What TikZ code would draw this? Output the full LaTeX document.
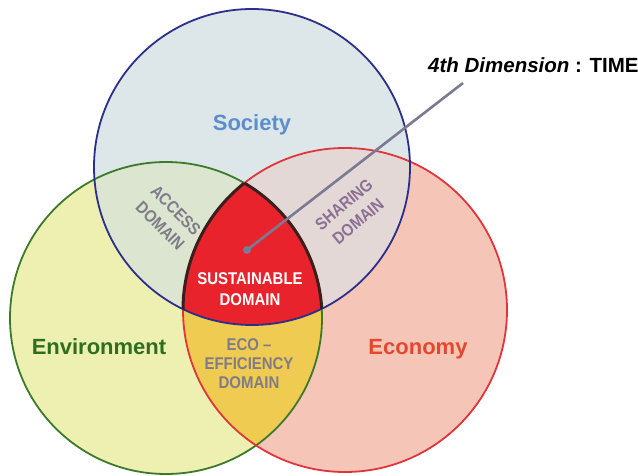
\documentclass[tikz,border=0pt]{standalone}
\usepackage{fontspec}
\setmainfont{Liberation Sans}
\newfontfamily\narrowsans{Liberation Sans}[FakeStretch=0.88,Ligatures=TeX]

\definecolor{socfill}{HTML}{DDE7EA}
\definecolor{envfill}{HTML}{EEF0B2}
\definecolor{econfill}{HTML}{F5C6B8}
\definecolor{accessfill}{HTML}{DCE5CF}
\definecolor{sharingfill}{HTML}{E3D8D6}
\definecolor{efficiencyfill}{HTML}{EFCB52}
\definecolor{sustfill}{HTML}{E8232B}
\definecolor{socline}{HTML}{2B2F8A}
\definecolor{envline}{HTML}{3C7A2A}
\definecolor{econline}{HTML}{E0353B}
\definecolor{sustline}{HTML}{3B1E1E}
\definecolor{soctext}{HTML}{5B8FCB}
\definecolor{envtext}{HTML}{2F6E1F}
\definecolor{econtext}{HTML}{E5472E}
\definecolor{domaingray}{HTML}{7F7C88}
\definecolor{timeline}{HTML}{7B7A92}

\def\societycircle{(252,167) circle (158)}
\def\envcircle{(166,318) circle (156)}
\def\econcircle{(345,310) circle (162)}

\begin{document}
\begin{tikzpicture}[x=1pt,y=-1pt,
    big label/.style={font=\bfseries\fontsize{22}{24}\selectfont},
    domain label/.style={font=\narrowsans\bfseries\fontsize{17}{22}\selectfont,align=center,text=domaingray}]
  \useasboundingbox (0,0) rectangle (638,476);

  % base discs
  \fill[envfill] \envcircle;
  \fill[econfill] \econcircle;
  \fill[socfill] \societycircle;
  % overlaps
  \begin{scope}
    \clip \envcircle;
    \fill[efficiencyfill] \econcircle;
  \end{scope}
  \begin{scope}
    \clip \societycircle;
    \fill[accessfill] \envcircle;
  \end{scope}
  \begin{scope}
    \clip \societycircle;
    \fill[sharingfill] \econcircle;
  \end{scope}
  \begin{scope}
    \clip \societycircle;
    \clip \envcircle;
    \fill[sustfill] \econcircle;
  \end{scope}

  % outlines
  \draw[envline,line width=1.8] \envcircle;
  \draw[econline,line width=1.8] \econcircle;
  \draw[socline,line width=1.8] \societycircle;
  \begin{scope}
    \clip \societycircle; \clip \envcircle;
    \draw[sustline,line width=3] \econcircle;
  \end{scope}
  \begin{scope}
    \clip \societycircle; \clip \econcircle;
    \draw[sustline,line width=3] \envcircle;
  \end{scope}

  % labels
  \node[big label,text=soctext] (society) at (252,125) {Society};
  \node[big label,text=envtext] (environment) at (99,347) {Environment};
  \node[big label,text=econtext] (economy) at (418,349) {Economy};

  \node[domain label,rotate=-45] (access) at (168,218) {ACCESS\\DOMAIN};
  \node[domain label,rotate=40,text=domaingray!90!magenta] (sharing) at (351,213) {SHARING\\DOMAIN};
  \node[domain label,text=white,font=\narrowsans\bfseries\fontsize{17}{21}\selectfont] (sustainable) at (250,289) {SUSTAINABLE\\DOMAIN};
  \node[domain label,font=\narrowsans\bfseries\fontsize{17}{19}\selectfont] (eco) at (249,364) {ECO \textendash\\EFFICIENCY\\DOMAIN};

  \node[anchor=west,font=\bfseries\fontsize{20.5}{22}\selectfont,inner sep=0pt] (time) at (428,65)
    {\textit{4th Dimension} : TIME};

  % time axis
  \coordinate (dot) at (247,250);
  \coordinate (lineend) at (463,83);
  \draw[timeline,line width=2.6] (dot) -- (lineend);
  \fill[timeline] (dot) circle (4);
\end{tikzpicture}
\end{document}
